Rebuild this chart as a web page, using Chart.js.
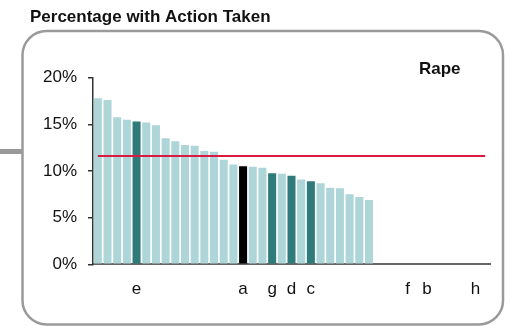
<!DOCTYPE html>
<html>
<head>
<meta charset="utf-8">
<script src="https://cdn.jsdelivr.net/npm/chart.js@4/dist/chart.umd.min.js"></script>
<style>
  html, body { margin: 0; padding: 0; background: #fff; }
  #wrap { position: relative; width: 510px; height: 326px; }
</style>
</head>
<body>
<div id="wrap"><canvas id="actionChart" width="510" height="326"></canvas></div>
<script>
// Category slots along the x axis; only the named sites get a label.
var siteLabels = ['', '', '', '', 'e', '', '', '', '', '', '', '', '', '', '', 'a', '', '', 'g', '', 'd', '', 'c', '', '', '', '', '', '', '', '', '', 'f', '', 'b', '', '', '', '', 'h', ''];

// Percentage with action taken, sorted high to low (f, b, h have no value).
var actionPct = [17.8, 17.6, 15.75, 15.5, 15.3, 15.2, 14.9, 13.5, 13.2, 12.8, 12.7, 12.15, 12.05, 11.2, 10.7,
                 10.5, 10.45, 10.35, 9.75, 9.7, 9.5, 9.1, 8.9, 8.7, 8.2, 8.15, 7.5, 7.2, 6.9,
                 null, null, null, null, null, null, null, null, null, null, null, null];

// Overall average drawn as the red reference line.
var averagePct = 11.6;

var yTicks = [0, 5, 10, 15, 20];

var LIGHT = '#aed6d9', DARK = '#2f7a7a', BLACK = '#000000';

// Highlight colours: named sites in dark teal, site "a" in black.
var barColors = actionPct.map(function (v, i) {
  var lab = siteLabels[i];
  if (lab === 'a') return BLACK;
  if (lab) return DARK;
  return LIGHT;
});

var FONT = '"Liberation Sans", Arial, sans-serif';

// Frame, side connector and headings drawn behind the chart.
var framePlugin = {
  id: 'frame',
  beforeDraw: function (chart) {
    var ctx = chart.ctx;
    ctx.save();
    ctx.fillStyle = '#999';
    ctx.fillRect(0, 149, 23, 5);
    ctx.strokeStyle = '#9a9a9a';
    ctx.lineWidth = 2.5;
    ctx.beginPath();
    ctx.roundRect(22.5, 31, 480.5, 293.5, 24);
    ctx.stroke();
    ctx.fillStyle = '#111';
    ctx.font = 'bold 17px ' + FONT;
    ctx.textBaseline = 'alphabetic';
    ctx.fillText('Percentage with Action Taken', 30, 21.5);
    ctx.fillText('Rape', 419, 74);
    ctx.restore();
  }
};

var ctx = document.getElementById('actionChart');
var actionChart = new Chart(ctx, {
  type: 'bar',
  data: {
    labels: siteLabels,
    datasets: [
      {
        type: 'line',
        label: 'Average',
        data: siteLabels.map(function () { return averagePct; }),
        borderColor: '#d81b3f',
        borderWidth: 2,
        pointRadius: 0,
        fill: false,
        order: 0
      },
      {
        label: 'Action taken',
        data: actionPct,
        backgroundColor: barColors,
        borderWidth: 0,
        barPercentage: 0.83,
        categoryPercentage: 1,
        order: 1
      }
    ]
  },
  options: {
    responsive: false,
    animation: false,
    layout: { padding: { left: 0, right: 20, top: 77.7, bottom: 21.7 } },
    plugins: {
      legend: { display: false },
      tooltip: { enabled: false }
    },
    scales: {
      x: {
        grid: { display: false, drawTicks: false },
        border: { display: true, color: '#666', width: 2 },
        ticks: {
          autoSkip: false,
          maxRotation: 0,
          padding: 15,
          color: '#111',
          font: { family: FONT, size: 17 }
        },
        afterFit: function (scale) { scale.height = 40; }
      },
      y: {
        min: 0,
        max: 20,
        afterBuildTicks: function (scale) {
          scale.ticks = yTicks.map(function (v) { return { value: v }; });
        },
        grid: { display: true, drawOnChartArea: false, drawTicks: true, tickLength: 5, color: '#333', lineWidth: 1.5 },
        border: { display: true, color: '#333', width: 1.5 },
        ticks: {
          padding: 11,
          color: '#111',
          font: { family: FONT, size: 17 },
          callback: function (v) { return v + '%'; }
        },
        afterFit: function (scale) { scale.width = 93; }
      }
    }
  },
  plugins: [framePlugin]
});
</script>
</body>
</html>
